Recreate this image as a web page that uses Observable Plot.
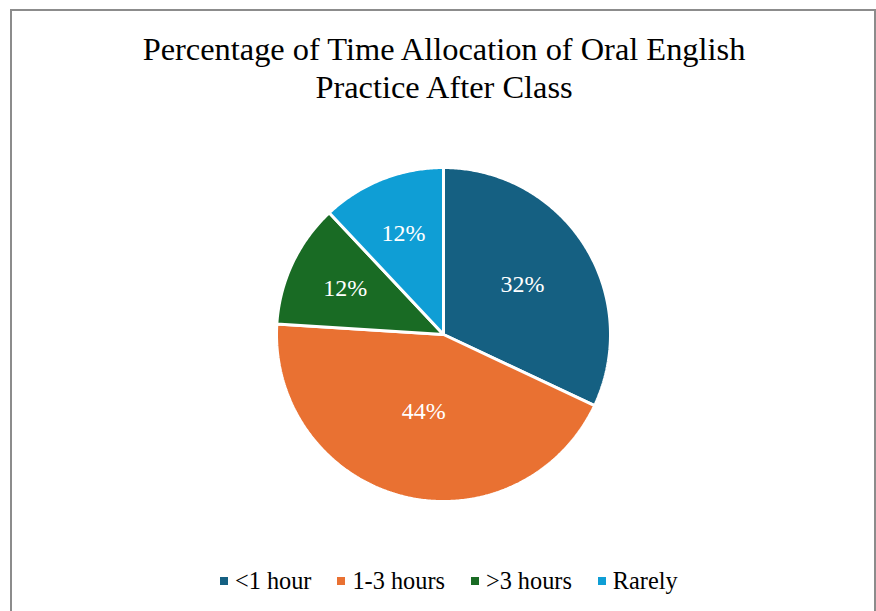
<!DOCTYPE html>
<html><head><meta charset="utf-8">
<script src="https://cdn.jsdelivr.net/npm/d3@7"></script>
<script src="https://cdn.jsdelivr.net/npm/@observablehq/plot@0.6"></script>
<style>
body{margin:0;background:#fff;}
#wrap{position:relative;width:876px;height:611px;overflow:hidden;font-family:"Liberation Serif","Times New Roman",serif;color:#000;}
#frame{position:absolute;left:10px;top:9px;width:866px;height:700px;border:2px solid #8c8c8c;box-sizing:border-box;}
#title{position:absolute;left:0;top:30px;width:888px;text-align:center;font-size:32.4px;line-height:38px;}
#chart{position:absolute;left:0;top:144px;}
#legend{position:absolute;left:220px;top:567px;display:flex;align-items:center;font-size:24.3px;line-height:28px;white-space:nowrap;}
.item{display:flex;align-items:center;margin-right:26px;}
.sw{width:8px;height:8px;margin-right:7px;}
</style>
</head><body>
<div id="wrap">
  <div id="frame"></div>
  <div id="title">Percentage of Time Allocation of Oral English<br>Practice After Class</div>
  <div id="chart"></div>
  <div id="legend"></div>
</div>
<script>
const categories = ["<1 hour", "1-3 hours", ">3 hours", "Rarely"];
const values = [32, 44, 12, 12];
const colors = ["#156082", "#E97132", "#196B24", "#0F9ED5"];
const labels = ["32%", "44%", "12%", "12%"];

const arcs = d3.pie().sort(null).value(d => d)(values);
const pts = [];
const labelData = [];
arcs.forEach((a, i) => {
  const key = categories[i];
  pts.push({key, x: 0, y: 0});
  const n = Math.max(2, Math.ceil((a.endAngle - a.startAngle) / 0.01));
  for (let k = 0; k <= n; k++) {
    const t = a.startAngle + (a.endAngle - a.startAngle) * k / n;
    pts.push({key, x: Math.sin(t), y: Math.cos(t)});
  }
  const half = (a.endAngle - a.startAngle) / 2;
  const mid = a.startAngle + half;
  const d = (2 * Math.sin(half)) / (3 * half);
  labelData.push({x: d * Math.sin(mid), y: d * Math.cos(mid), text: labels[i]});
});

const chart = Plot.plot({
  width: 876, height: 380,
  marginLeft: 276, marginRight: 266, marginTop: 23, marginBottom: 23,
  style: {fontFamily: "Liberation Serif", background: "transparent"},
  x: {domain: [-1, 1], axis: null},
  y: {domain: [-1, 1], axis: null},
  color: {domain: categories, range: colors},
  marks: [
    Plot.line(pts, {x: "x", y: "y", z: "key", fill: "key", stroke: "white", strokeWidth: 3, curve: "linear-closed", strokeLinejoin: "miter"}),
    Plot.text(labelData, {x: "x", y: "y", text: "text", fill: "white", fontSize: 24, fontFamily: "Liberation Serif"})
  ]
});
document.getElementById("chart").appendChild(chart);

const legend = document.getElementById("legend");
categories.forEach((c, i) => {
  const it = document.createElement("div");
  it.className = "item";
  const sw = document.createElement("div");
  sw.className = "sw";
  sw.style.background = colors[i];
  const tx = document.createElement("span");
  tx.textContent = c;
  it.appendChild(sw); it.appendChild(tx);
  legend.appendChild(it);
});
</script>
</body></html>
